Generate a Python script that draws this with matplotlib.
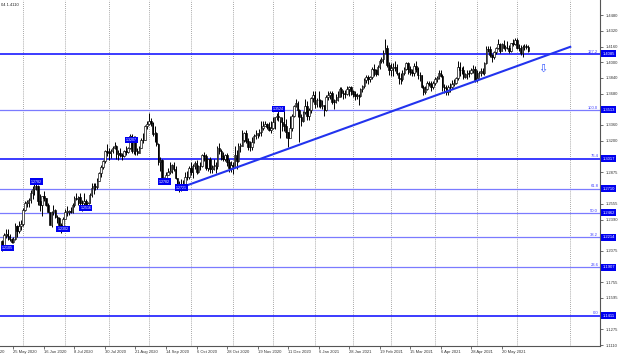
import matplotlib
matplotlib.use("Agg")
import matplotlib.pyplot as plt
import matplotlib.transforms as mtrans
import numpy as np
import pandas as pd

plt.rcParams['font.family'] = ['Liberation Sans', 'DejaVu Sans']

# daily GBP/USD bars, 15 May 2020 .. 9 Jun 2021
first_open = 1.2180
closes = [
    # May 2020
    1.2130, 1.2235, 1.2245, 1.2225, 1.2200, 1.2165, 1.2195, 1.2330, 1.2275, 1.2325, 1.2345,
    # Jun 2020
    1.2495, 1.2565, 1.2565, 1.2590, 1.2670, 1.2710, 1.2735, 1.2740, 1.2580, 1.2545, 1.2630,
    1.2615, 1.2545, 1.2475, 1.2340, 1.2470, 1.2490, 1.2420, 1.2415, 1.2335, 1.2310, 1.2400,
    # Jul 2020
    1.2475, 1.2475, 1.2480, 1.2470, 1.2545, 1.2610, 1.2600, 1.2620, 1.2560, 1.2565, 1.2580,
    1.2540, 1.2565, 1.2645, 1.2720, 1.2735, 1.2725, 1.2790, 1.2870, 1.2935, 1.2990, 1.3090, 1.3085,
    # Aug 2020
    1.3075, 1.3090, 1.3120, 1.3145, 1.3060, 1.3070, 1.3050, 1.3045, 1.3095, 1.3085, 1.3120,
    1.3245, 1.3090, 1.3235, 1.3090, 1.3075, 1.3125, 1.3210, 1.3205, 1.3350, 1.3370,
    # Sep 2020
    1.3405, 1.3380, 1.3265, 1.3280, 1.3170, 1.2985, 1.3000, 1.2790, 1.2795, 1.2850, 1.2880,
    1.2890, 1.2955, 1.2915, 1.2815, 1.2730, 1.2745, 1.2755, 1.2745, 1.2825, 1.2830, 1.2920,
    # Oct 2020
    1.2880, 1.2940, 1.2970, 1.2880, 1.2940, 1.2940, 1.3050, 1.3045, 1.2925, 1.3010, 1.2915,
    1.2915, 1.2945, 1.2945, 1.3120, 1.3090, 1.3045, 1.3010, 1.3050, 1.2980, 1.2920, 1.2950,
    # Nov 2020
    1.2945, 1.3050, 1.2990, 1.3150, 1.3150, 1.3205, 1.3275, 1.3195, 1.3130, 1.3135, 1.3190,
    1.3250, 1.3255, 1.3275, 1.3290, 1.3330, 1.3350, 1.3365, 1.3340, 1.3310, 1.3330,
    # Dec 2020
    1.3385, 1.3440, 1.3450, 1.3440, 1.3385, 1.3365, 1.3345, 1.3285, 1.3230, 1.3330, 1.3450,
    1.3550, 1.3580, 1.3510, 1.3440, 1.3395, 1.3495, 1.3550, 1.3450, 1.3510, 1.3635, 1.3670,
    # Jan 2021
    1.3570, 1.3610, 1.3610, 1.3555, 1.3565, 1.3515, 1.3640, 1.3665, 1.3685, 1.3590,
    1.3595, 1.3610, 1.3645, 1.3730, 1.3685, 1.3675, 1.3675, 1.3725, 1.3745, 1.3705,
    # Feb 2021
    1.3680, 1.3655, 1.3665, 1.3655, 1.3730, 1.3755, 1.3820, 1.3845, 1.3830, 1.3850,
    1.3930, 1.3925, 1.3880, 1.3955, 1.4010, 1.4035, 1.4095, 1.4150, 1.3975, 1.3925,
    # Mar 2021
    1.3940, 1.3955, 1.3950, 1.3890, 1.3835, 1.3825, 1.3890, 1.3930, 1.3990, 1.3930, 1.3905,
    1.3885, 1.3965, 1.3935, 1.3865, 1.3870, 1.3745, 1.3700, 1.3730, 1.3790, 1.3780, 1.3745, 1.3785,
    # Apr 2021
    1.3830, 1.3840, 1.3890, 1.3860, 1.3745, 1.3735, 1.3700, 1.3745, 1.3745, 1.3780, 1.3790,
    1.3835, 1.3950, 1.3920, 1.3925, 1.3845, 1.3875, 1.3885, 1.3890, 1.3925, 1.3930, 1.3820,
    # May 2021
    1.3835, 1.3890, 1.3910, 1.3895, 1.3990, 1.4140, 1.4130, 1.4070, 1.4050, 1.4100, 1.4145,
    1.4190, 1.4110, 1.4185, 1.4150, 1.4150, 1.4145, 1.4115, 1.4195, 1.4190, 1.4225,
    # Jun 2021
    1.4145, 1.4145, 1.4090, 1.4160, 1.4165, 1.4160, 1.4110,
]
highs = [
    1.2190, 1.2260, 1.2295, 1.2295, 1.2250, 1.2210, 1.2215, 1.2355, 1.2340, 1.2375, 1.2390,
    1.2510, 1.2580, 1.2595, 1.2615, 1.2700, 1.2735, 1.2765, 1.2812, 1.2745, 1.2650, 1.2635,
    1.2690, 1.2615, 1.2560, 1.2470, 1.2480, 1.2545, 1.2500, 1.2440, 1.2425, 1.2360, 1.2420,
    1.2505, 1.2530, 1.2495, 1.2520, 1.2565, 1.2630, 1.2670, 1.2630, 1.2670, 1.2595, 1.2670,
    1.2600, 1.2575, 1.2670, 1.2770, 1.2770, 1.2770, 1.2815, 1.2880, 1.2950, 1.3005, 1.3105, 1.3170,
    1.3125, 1.3110, 1.3145, 1.3185, 1.3155, 1.3100, 1.3120, 1.3075, 1.3105, 1.3140, 1.3135,
    1.3265, 1.3265, 1.3250, 1.3250, 1.3125, 1.3150, 1.3225, 1.3280, 1.3360, 1.3400,
    1.3482, 1.3430, 1.3385, 1.3345, 1.3290, 1.3175, 1.3030, 1.3010, 1.2825, 1.2875, 1.2925,
    1.2985, 1.2965, 1.2985, 1.2945, 1.2820, 1.2790, 1.2805, 1.2800, 1.2875, 1.2890, 1.2945,
    1.2980, 1.2960, 1.2990, 1.3005, 1.2955, 1.2985, 1.3060, 1.3080, 1.3065, 1.3015, 1.3030,
    1.2950, 1.3010, 1.2985, 1.3140, 1.3175, 1.3115, 1.3080, 1.3065, 1.3075, 1.3010, 1.2990,
    1.2985, 1.3140, 1.3100, 1.3180, 1.3175, 1.3310, 1.3285, 1.3310, 1.3225, 1.3200, 1.3235,
    1.3265, 1.3310, 1.3280, 1.3315, 1.3395, 1.3395, 1.3400, 1.3380, 1.3385, 1.3395,
    1.3440, 1.3445, 1.3480, 1.3539, 1.3415, 1.3445, 1.3500, 1.3420, 1.3285, 1.3455, 1.3470,
    1.3560, 1.3625, 1.3600, 1.3520, 1.3470, 1.3500, 1.3625, 1.3600, 1.3535, 1.3650, 1.3705,
    1.3705, 1.3635, 1.3705, 1.3625, 1.3615, 1.3565, 1.3670, 1.3710, 1.3710, 1.3710,
    1.3620, 1.3680, 1.3705, 1.3745, 1.3750, 1.3720, 1.3720, 1.3760, 1.3755, 1.3760,
    1.3715, 1.3705, 1.3690, 1.3680, 1.3740, 1.3765, 1.3840, 1.3865, 1.3865, 1.3860,
    1.3950, 1.3985, 1.3935, 1.3975, 1.4035, 1.4050, 1.4125, 1.4241, 1.4180, 1.4000,
    1.3990, 1.3990, 1.4010, 1.3985, 1.3900, 1.3895, 1.3920, 1.3950, 1.4000, 1.4000, 1.3960,
    1.3935, 1.3990, 1.4015, 1.3950, 1.3900, 1.3870, 1.3770, 1.3760, 1.3810, 1.3805, 1.3810, 1.3810,
    1.3850, 1.3860, 1.3920, 1.3920, 1.3875, 1.3775, 1.3765, 1.3770, 1.3785, 1.3820, 1.3830,
    1.3845, 1.4010, 1.4000, 1.3950, 1.3960, 1.3890, 1.3925, 1.3925, 1.3945, 1.3975, 1.3960,
    1.3920, 1.3915, 1.3940, 1.3945, 1.4005, 1.4165, 1.4165, 1.4165, 1.4080, 1.4110, 1.4155,
    1.4235, 1.4195, 1.4195, 1.4230, 1.4175, 1.4220, 1.4180, 1.4200, 1.4235, 1.4250,
    1.4250, 1.4185, 1.4180, 1.4180, 1.4185, 1.4190, 1.4175,
]
lows = [
    1.2076, 1.2120, 1.2205, 1.2190, 1.2180, 1.2160, 1.2150, 1.2185, 1.2215, 1.2260, 1.2285,
    1.2330, 1.2480, 1.2520, 1.2525, 1.2560, 1.2605, 1.2645, 1.2700, 1.2545, 1.2480, 1.2435,
    1.2585, 1.2530, 1.2470, 1.2335, 1.2315, 1.2445, 1.2415, 1.2355, 1.2320, 1.2252, 1.2285,
    1.2395, 1.2430, 1.2440, 1.2460, 1.2460, 1.2525, 1.2590, 1.2545, 1.2540, 1.2480, 1.2520,
    1.2520, 1.2490, 1.2560, 1.2620, 1.2650, 1.2700, 1.2705, 1.2785, 1.2830, 1.2910, 1.2975, 1.3040,
    1.3005, 1.3025, 1.3075, 1.3110, 1.3010, 1.3005, 1.3030, 1.3005, 1.3030, 1.3050, 1.3075,
    1.3110, 1.3075, 1.3065, 1.3055, 1.3055, 1.3070, 1.3120, 1.3180, 1.3210, 1.3315,
    1.3355, 1.3345, 1.3245, 1.3190, 1.3150, 1.2950, 1.2885, 1.2765, 1.2762, 1.2775, 1.2845,
    1.2855, 1.2865, 1.2890, 1.2805, 1.2720, 1.2676, 1.2690, 1.2695, 1.2745, 1.2800, 1.2805,
    1.2845, 1.2820, 1.2915, 1.2860, 1.2865, 1.2905, 1.2930, 1.2995, 1.2905, 1.2885, 1.2865,
    1.2865, 1.2900, 1.2865, 1.2915, 1.3060, 1.3005, 1.2990, 1.2990, 1.2940, 1.2880, 1.2880,
    1.2855, 1.2940, 1.2915, 1.2985, 1.3080, 1.3140, 1.3190, 1.3175, 1.3105, 1.3095, 1.3105,
    1.3175, 1.3215, 1.3225, 1.3245, 1.3250, 1.3305, 1.3345, 1.3320, 1.3300, 1.3280,
    1.3320, 1.3315, 1.3410, 1.3400, 1.3225, 1.3300, 1.3300, 1.3225, 1.3135, 1.3300, 1.3300,
    1.3445, 1.3540, 1.3440, 1.3190, 1.3345, 1.3390, 1.3470, 1.3415, 1.3415, 1.3485, 1.3595,
    1.3530, 1.3540, 1.3545, 1.3535, 1.3520, 1.3450, 1.3505, 1.3615, 1.3625, 1.3570,
    1.3520, 1.3580, 1.3600, 1.3640, 1.3640, 1.3625, 1.3630, 1.3665, 1.3660, 1.3665,
    1.3640, 1.3615, 1.3625, 1.3565, 1.3650, 1.3700, 1.3735, 1.3790, 1.3780, 1.3800,
    1.3825, 1.3855, 1.3860, 1.3870, 1.3935, 1.3990, 1.3990, 1.4105, 1.3950, 1.3865,
    1.3860, 1.3855, 1.3915, 1.3870, 1.3775, 1.3780, 1.3810, 1.3870, 1.3920, 1.3880, 1.3870,
    1.3855, 1.3860, 1.3905, 1.3830, 1.3805, 1.3735, 1.3670, 1.3675, 1.3715, 1.3760, 1.3710, 1.3725,
    1.3765, 1.3800, 1.3830, 1.3845, 1.3710, 1.3685, 1.3670, 1.3670, 1.3695, 1.3725, 1.3760,
    1.3775, 1.3820, 1.3860, 1.3880, 1.3830, 1.3835, 1.3830, 1.3850, 1.3880, 1.3895, 1.3800,
    1.3800, 1.3850, 1.3855, 1.3875, 1.3865, 1.3985, 1.4105, 1.4050, 1.4005, 1.4030, 1.4085,
    1.4130, 1.4090, 1.4110, 1.4135, 1.4115, 1.4130, 1.4095, 1.4105, 1.4165, 1.4180,
    1.4135, 1.4110, 1.4070, 1.4055, 1.4125, 1.4140, 1.4104,
]

holidays = ["2020-12-25", "2021-01-01"]
date_labels = ["25 May 2020", "16 Jun 2020", "8 Jul 2020", "30 Jul 2020", "21 Aug 2020",
               "14 Sep 2020", "6 Oct 2020", "28 Oct 2020", "19 Nov 2020", "11 Dec 2020",
               "6 Jan 2021", "28 Jan 2021", "19 Feb 2021", "15 Mar 2021", "6 Apr 2021",
               "28 Apr 2021", "20 May 2021"]

price_ticks = [1.4480, 1.4320, 1.4160, 1.4000, 1.3840, 1.3680, 1.3360, 1.3200, 1.2875,
               1.2555, 1.2390, 1.2075, 1.1755, 1.1595, 1.1275, 1.1110]

fib_ratios = [0.0, 23.6, 38.2, 50.0, 61.8, 76.4, 100.0, 127.2]
fib_low = 1.1411
fib_high = 1.3513

# swing marks (bar index, price)
swing_bar = [3, 18, 32, 44, 68, 85, 94, 145]
swing_price = [1.2105, 1.2782, 1.2302, 1.2516, 1.3207, 1.2782, 1.2721, 1.3524]

trend_bar = [93, 298]
trend_price = [1.2715, 1.4157]

# ---------------------------------------------------------------
closes = np.array(closes)
highs = np.array(highs)
lows = np.array(lows)
opens = np.concatenate([[first_open], closes[:-1]])
n = len(closes)
x = np.arange(n)

days = pd.bdate_range("2020-05-15", "2021-07-30")
days = days[~days.isin(pd.to_datetime(holidays))][:n]

fig = plt.figure(figsize=(6.2, 3.57), dpi=100)
ax = fig.add_axes([0, 0.032, 600 / 620, 0.968])
ax.set_xlim(-1.05, 313.6)
ax.set_ylim(1.1108, 1.4635)

# month grid
month_first = pd.Series(np.arange(n), index=days).groupby(days.to_period("M")).first().values[1:]
grid_x = list(month_first) + [298]
for g in grid_x:
    ax.axvline(g, color="#8a8a8a", lw=0.6, ls=(0, (1.0, 1.5)), zorder=0)

# fib levels
bold_levels = [0.0, 76.4, 127.2]
trans = mtrans.blended_transform_factory(ax.transAxes, ax.transData)
for r in fib_ratios:
    lvl = fib_low + r / 100 * (fib_high - fib_low)
    if r in bold_levels:
        ax.axhline(lvl, color="#1a1aff", lw=1.2, zorder=1)
    else:
        ax.axhline(lvl, color="#7b7bff", lw=0.9, zorder=1)
    ax.text(0.997, lvl + 0.0004, "%.1f" % r, transform=trans, ha="right", va="bottom",
            fontsize=3, color="#3b3bff")
    ax.text(1.004, lvl, "%.4f" % lvl, transform=trans, ha="left", va="center",
            fontsize=3, color="white", clip_on=False,
            bbox=dict(boxstyle="square,pad=0.35", fc="#0000f0", ec="none"))

# candles
ax.vlines(x, lows, highs, color="black", lw=0.7, zorder=3)
up = closes >= opens
body = np.maximum(np.abs(closes - opens), 0.0005)
ax.bar(x[up], body[up], bottom=opens[up], width=0.8, color="white",
       edgecolor="black", lw=0.45, zorder=4)
ax.bar(x[~up], body[~up], bottom=closes[~up], width=0.8, color="black",
       edgecolor="black", lw=0.45, zorder=4)

# trend line and arrow
ax.plot(trend_bar, trend_price, color="#2233ee", lw=1.5, zorder=5)
ax.text(283.7, 1.3931, "\u21e9", fontsize=8, color="#3355ff", ha="center", va="center",
        family="DejaVu Sans")

# swing price boxes
for b, p in zip(swing_bar, swing_price):
    ax.text(b, p, "%.4f" % p, ha="center", va="center", fontsize=2.6, color="white",
            zorder=6, bbox=dict(boxstyle="square,pad=0.3", fc="#0000f0", ec="none"))

# axes styling
for s in ["left", "top"]:
    ax.spines[s].set_visible(False)
for s in ["right", "bottom"]:
    ax.spines[s].set_color("#555555")
    ax.spines[s].set_linewidth(0.8)

ax.yaxis.tick_right()
ax.set_yticks(price_ticks)
ax.set_yticklabels(["%.4f" % t for t in price_ticks])
ax.tick_params(axis="y", length=2, width=0.5, pad=2, labelsize=3, colors="#333333")

label_pos = [days.get_loc(pd.Timestamp(d)) for d in date_labels]
ax.set_xticks(label_pos)
ax.set_xticklabels(date_labels, ha="left")
ax.tick_params(axis="x", length=2, width=0.5, pad=1, labelsize=3, colors="#333333")
ax.text(label_pos[0] - 16, -0.013, "1 May 2020", transform=mtrans.blended_transform_factory(
    ax.transData, ax.transAxes), ha="left", va="top", fontsize=3, color="#333333", clip_on=False)

fig.text(0.002, 0.992, "04 1.4110", fontsize=3, va="top", color="#222222")

fig.savefig("out.png", dpi=100)
